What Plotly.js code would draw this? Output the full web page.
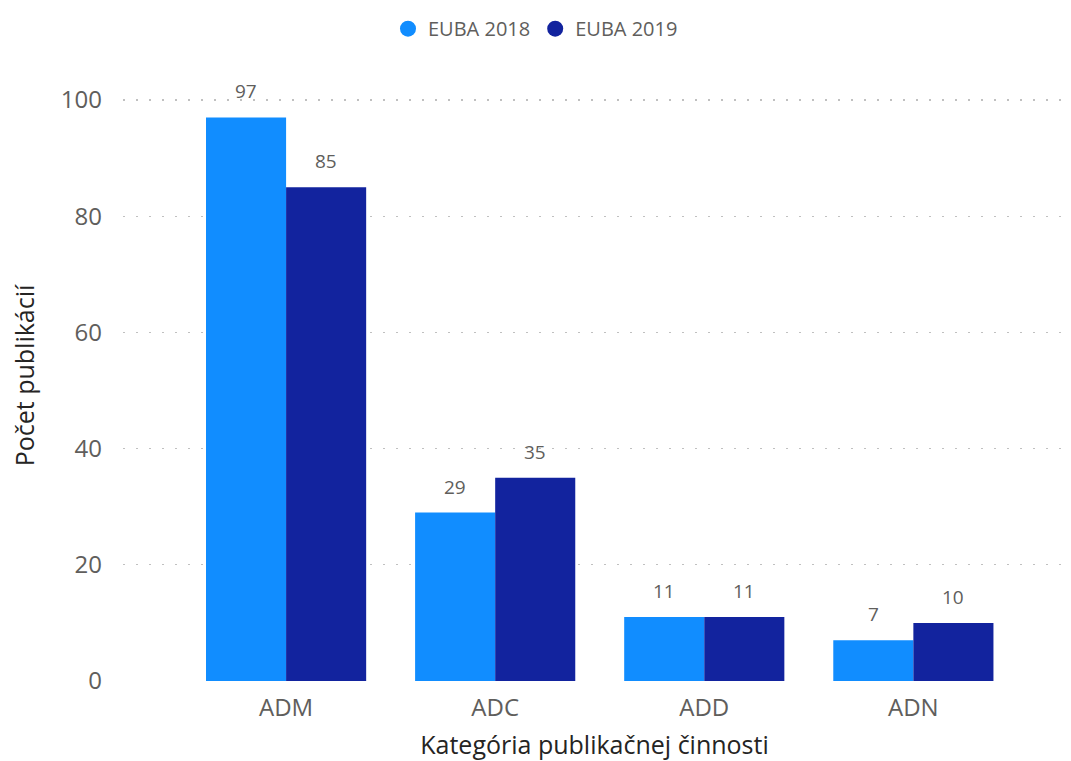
<!DOCTYPE html>
<html>
<head>
<meta charset="utf-8">
<script src="https://cdn.plot.ly/plotly-3.0.1.min.js"></script>
<style>html,body{margin:0;padding:0;background:#fff;}#chart{width:1071px;height:761px;}</style>
</head>
<body>
<div id="chart"></div>
<script>
const categories = ["ADM", "ADC", "ADD", "ADN"];
const seriesNames = ["EUBA 2018", "EUBA 2019"];
const euba2018 = [97, 29, 11, 7];
const euba2019 = [85, 35, 11, 10];
const yTicks = [0, 20, 40, 60, 80, 100];
const colors = ["#118DFF", "#12239E"];

const font = "'Segoe UI', 'Open Sans', 'Noto Sans', sans-serif";
const values = [euba2018, euba2019];
const bargap = 0.234;
const barWidth = (1 - bargap) / values.length;

const traces = [];
values.forEach((v, i) => {
  traces.push({
    type: "bar",
    x: categories,
    y: v,
    name: seriesNames[i],
    marker: {color: colors[i]},
    showlegend: false,
    hoverinfo: "x+y+name"
  });
});
values.forEach((v, i) => {
  traces.push({
    type: "scatter",
    mode: "markers",
    x: [null],
    y: [null],
    name: seriesNames[i],
    marker: {color: colors[i], size: 20, symbol: "circle"},
    showlegend: true,
    hoverinfo: "skip"
  });
});

const annotations = [];
values.forEach((v, i) => {
  const offset = (i - (values.length - 1) / 2) * barWidth;
  v.forEach((val, j) => {
    annotations.push({
      x: j + offset, y: val, xref: "x", yref: "y",
      text: String(val), showarrow: false,
      xanchor: "center", yanchor: "bottom", yshift: 11,
      font: {family: font, size: 19, color: "#605E5C"}
    });
  });
});

const layout = {
  width: 1071,
  height: 761,
  margin: {l: 123, r: 5, t: 70, b: 80},
  paper_bgcolor: "#fff",
  plot_bgcolor: "#fff",
  barmode: "group",
  bargap: bargap,
  bargroupgap: 0,
  showlegend: true,
  legend: {
    orientation: "h",
    x: 0.5, xref: "container", xanchor: "center",
    y: 0.988, yref: "container", yanchor: "top",
    font: {family: font, size: 20, color: "#605E5C"},
    itemwidth: 30,
    tracegroupgap: 0
  },
  annotations: annotations,
  xaxis: {
    type: "category",
    range: [-0.78, 3.73],
    showgrid: false,
    zeroline: false,
    showline: false,
    ticks: "",
    ticklabelstandoff: 10,
    tickfont: {family: font, size: 24, color: "#605E5C"},
    title: {text: "Kategória publikačnej činnosti", font: {family: font, size: 25, color: "#252423"}, standoff: 14}
  },
  yaxis: {
    range: [0, 105.16],
    tickvals: yTicks,
    ticktext: yTicks.map(String),
    showgrid: true,
    gridcolor: "#C0C0C0",
    gridwidth: 1.3,
    griddash: "2px,11px",
    zeroline: false,
    showline: false,
    ticks: "",
    ticklabelstandoff: 20,
    tickfont: {family: font, size: 24, color: "#605E5C"},
    title: {text: "Počet publikácií", font: {family: font, size: 25, color: "#252423"}, standoff: 19}
  },
  font: {family: font}
};

Plotly.newPlot("chart", traces, layout, {displayModeBar: false, staticPlot: true});
</script>
</body>
</html>
